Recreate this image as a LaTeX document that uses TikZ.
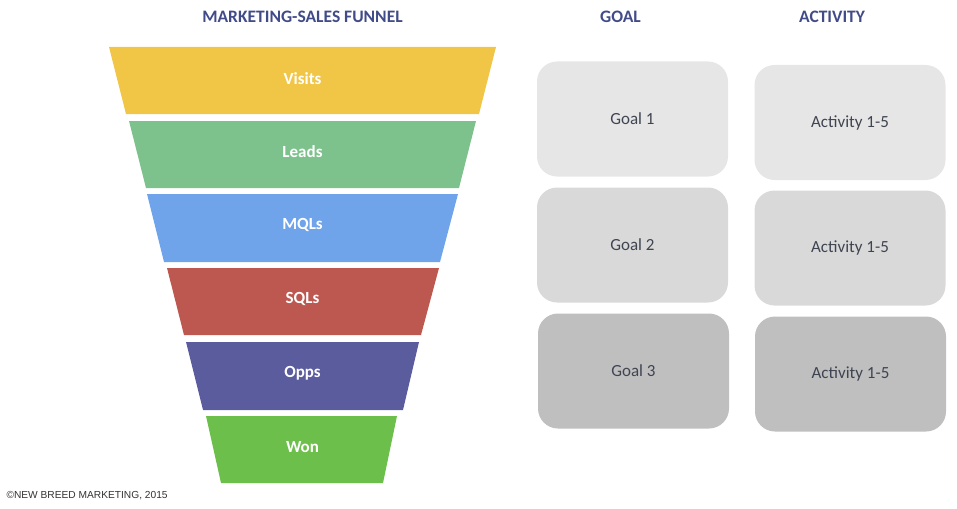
\documentclass[tikz,border=0pt]{standalone}
\usepackage{fontspec}
\setmainfont{Carlito}
\newfontfamily\arialfont{Liberation Sans}
\definecolor{titleblue}{HTML}{414B87}
\definecolor{boxtext}{HTML}{3F4451}
\definecolor{visitsc}{HTML}{F1C646}
\definecolor{leadsc}{HTML}{7DC28D}
\definecolor{mqlsc}{HTML}{6FA3EA}
\definecolor{sqlsc}{HTML}{BD5851}
\definecolor{oppsc}{HTML}{5A5C9E}
\definecolor{wonc}{HTML}{6DBF4B}
\definecolor{lightbox}{HTML}{E6E6E6}
\definecolor{midbox}{HTML}{D9D9D9}
\definecolor{darkbox}{HTML}{BFBFBF}
\begin{document}
  \begin{tikzpicture}[x=1pt,y=-1pt,
      header/.style={font=\bfseries\fontsize{17.5}{20}\selectfont, text=titleblue},
      bandlabel/.style={font=\bfseries\fontsize{17}{20}\selectfont, text=white},
      card/.style={rounded corners=20pt, minimum width=191pt, minimum height=115pt,
        inner sep=0pt, text=boxtext, font=\fontsize{17}{20}\selectfont}]
    \useasboundingbox (0,0) rectangle (957,508);

    \node[header] (funneltitle) at (302.5,17) {MARKETING-SALES FUNNEL};
    \node[header] (goaltitle) at (620.5,17) {GOAL};
    \node[header] (acttitle) at (832,17) {ACTIVITY};

    \fill[visitsc] (109,47) -- (496,47) -- (479,114) -- (126,114) -- cycle;
    \fill[leadsc] (129,121) -- (476,121) -- (459,188) -- (146,188) -- cycle;
    \fill[mqlsc] (147,194) -- (458,194) -- (440,262) -- (164,262) -- cycle;
    \fill[sqlsc] (167,268) -- (439,268) -- (421,335) -- (184,335) -- cycle;
    \fill[oppsc] (186,342) -- (419,342) -- (403,410) -- (203,410) -- cycle;
    \fill[wonc] (206,416) -- (397,416) -- (383,483) -- (221,483) -- cycle;

    \node[bandlabel] (visits) at (302.5,79) {Visits};
    \node[bandlabel] (leads) at (302.5,152) {Leads};
    \node[bandlabel] (mqls) at (302.5,225) {MQLs};
    \node[bandlabel] (sqls) at (302.5,299) {SQLs};
    \node[bandlabel] (opps) at (302.5,373) {Opps};
    \node[bandlabel] (won) at (302.5,447) {Won};

    \node[card, fill=lightbox] (goal1) at (632.5,119) {Goal 1};
    \node[card, fill=midbox] (goal2) at (632.5,245) {Goal 2};
    \node[card, fill=darkbox] (goal3) at (633.5,371) {Goal 3};

    \node[card, fill=lightbox] (act1) at (850,122.5) {Activity 1-5};
    \node[card, fill=midbox] (act2) at (850,248) {Activity 1-5};
    \node[card, fill=darkbox] (act3) at (850.5,374) {Activity 1-5};

    \node[anchor=west, text=black!80, font=\arialfont\fontsize{10.2}{12}\selectfont]
      (copyright) at (3,496) {©NEW BREED MARKETING, 2015};
  \end{tikzpicture}
\end{document}
